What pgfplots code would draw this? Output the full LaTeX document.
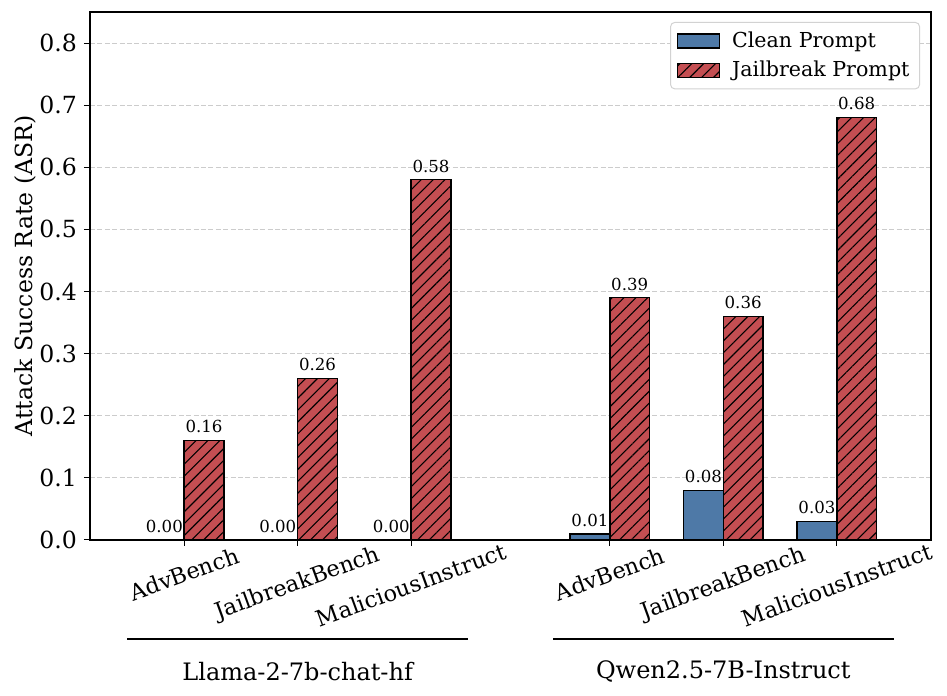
\documentclass[border=0pt]{standalone}
\usepackage{fontspec}
\setmainfont{DejaVu Serif}
\usepackage{pgfplots}
\pgfplotsset{compat=1.18}
\usetikzlibrary{patterns.meta}
\definecolor{cleanblue}{HTML}{4E79A7}
\definecolor{jbred}{HTML}{C44E52}
\begin{document}
\begin{tikzpicture}
\begin{axis}[
  width=420.5pt, height=264pt, scale only axis,
  xmin=-0.83, xmax=6.58, ymin=0, ymax=0.85,
  ybar=0pt, bar width=0.35,
  xtick={0,1,2,3.75,4.75,5.75}, xticklabels={},
  ytick={0,0.1,0.2,0.3,0.4,0.5,0.6,0.7,0.8},
  /pgf/number format/assume math mode=true,
  yticklabel style={/pgf/number format/fixed, /pgf/number format/precision=1, /pgf/number format/fixed zerofill, font=\fontsize{11.8}{13}\selectfont},
  tick align=outside, xtick pos=left, ytick pos=left,
  major tick length=3pt,
  tick style={black, line width=0.5pt},
  axis line style={line width=0.6pt},
  ymajorgrids, grid style={dash pattern=on 2.5pt off 1.2pt, gray!40, line width=0.4pt},
  ylabel={Attack Success Rate (ASR)},
  ylabel style={at={(axis description cs:-0.0773,0.5)}, anchor=center, font=\fontsize{11.8}{13}\selectfont},
  legend style={at={(1,1)}, xshift=-5.5pt, yshift=-5pt, anchor=north east, draw=gray!35, rounded corners=2pt, fill=white, font=\fontsize{10.3}{12}\selectfont, row sep=1.5pt, column sep=4pt, inner xsep=3pt, inner ysep=2.5pt, cells={anchor=west}, line width=0.5pt},
  legend image code/.code={\draw[#1, line width=0.75pt, sharp corners] (0pt,-3.5pt) rectangle (21pt,3.5pt);},
  nodes near coords,
  every node near coord/.append style={font=\fontsize{8.3}{10}\selectfont, /pgf/number format/fixed, /pgf/number format/precision=2, /pgf/number format/fixed zerofill, /pgf/number format/assume math mode=true, black},
  clip=false,
]
\addplot[fill=cleanblue, draw=black, line width=0.75pt] coordinates {(0,0) (1,0) (2,0) (3.75,0.01) (4.75,0.08) (5.75,0.03)};
\addlegendentry{Clean Prompt}
\addplot[fill=jbred, draw=black, line width=0.75pt, postaction={pattern={Lines[angle=45,distance=4.2pt,line width=0.55pt]}, pattern color=black}] coordinates {(0,0.16) (1,0.26) (2,0.58) (3.75,0.39) (4.75,0.36) (5.75,0.68)};
\addlegendentry{Jailbreak Prompt}
\node[yshift=-17pt, rotate=20, font=\fontsize{11.2}{13}\selectfont] at (axis cs:0,0) {AdvBench};
\node[yshift=-22pt, rotate=20, font=\fontsize{11.2}{13}\selectfont] at (axis cs:1,0) {JailbreakBench};
\node[yshift=-22.5pt, rotate=20, font=\fontsize{11.2}{13}\selectfont] at (axis cs:2,0) {MaliciousInstruct};
\node[yshift=-17pt, rotate=20, font=\fontsize{11.2}{13}\selectfont] at (axis cs:3.75,0) {AdvBench};
\node[yshift=-22pt, rotate=20, font=\fontsize{11.2}{13}\selectfont] at (axis cs:4.75,0) {JailbreakBench};
\node[yshift=-22.5pt, rotate=20, font=\fontsize{11.2}{13}\selectfont] at (axis cs:5.75,0) {MaliciousInstruct};
\draw[line width=0.6pt] ([yshift=-49.5pt]axis cs:-0.5,0) -- ([yshift=-49.5pt]axis cs:2.5,0);
\draw[line width=0.6pt] ([yshift=-49.5pt]axis cs:3.25,0) -- ([yshift=-49.5pt]axis cs:6.25,0);
\node[font=\fontsize{12}{14}\selectfont] at ([yshift=-66pt]axis cs:1,0) {Llama-2-7b-chat-hf};
\node[font=\fontsize{12}{14}\selectfont] at ([yshift=-66pt]axis cs:4.75,0) {Qwen2.5-7B-Instruct};
\coordinate (bl) at (rel axis cs:0,0);
\coordinate (tr) at (rel axis cs:1,1);
\end{axis}
\pgfresetboundingbox
\path ([shift={(-45pt,-78pt)}]bl) rectangle ([shift={(8pt,6pt)}]tr);
\end{tikzpicture}
\end{document}
